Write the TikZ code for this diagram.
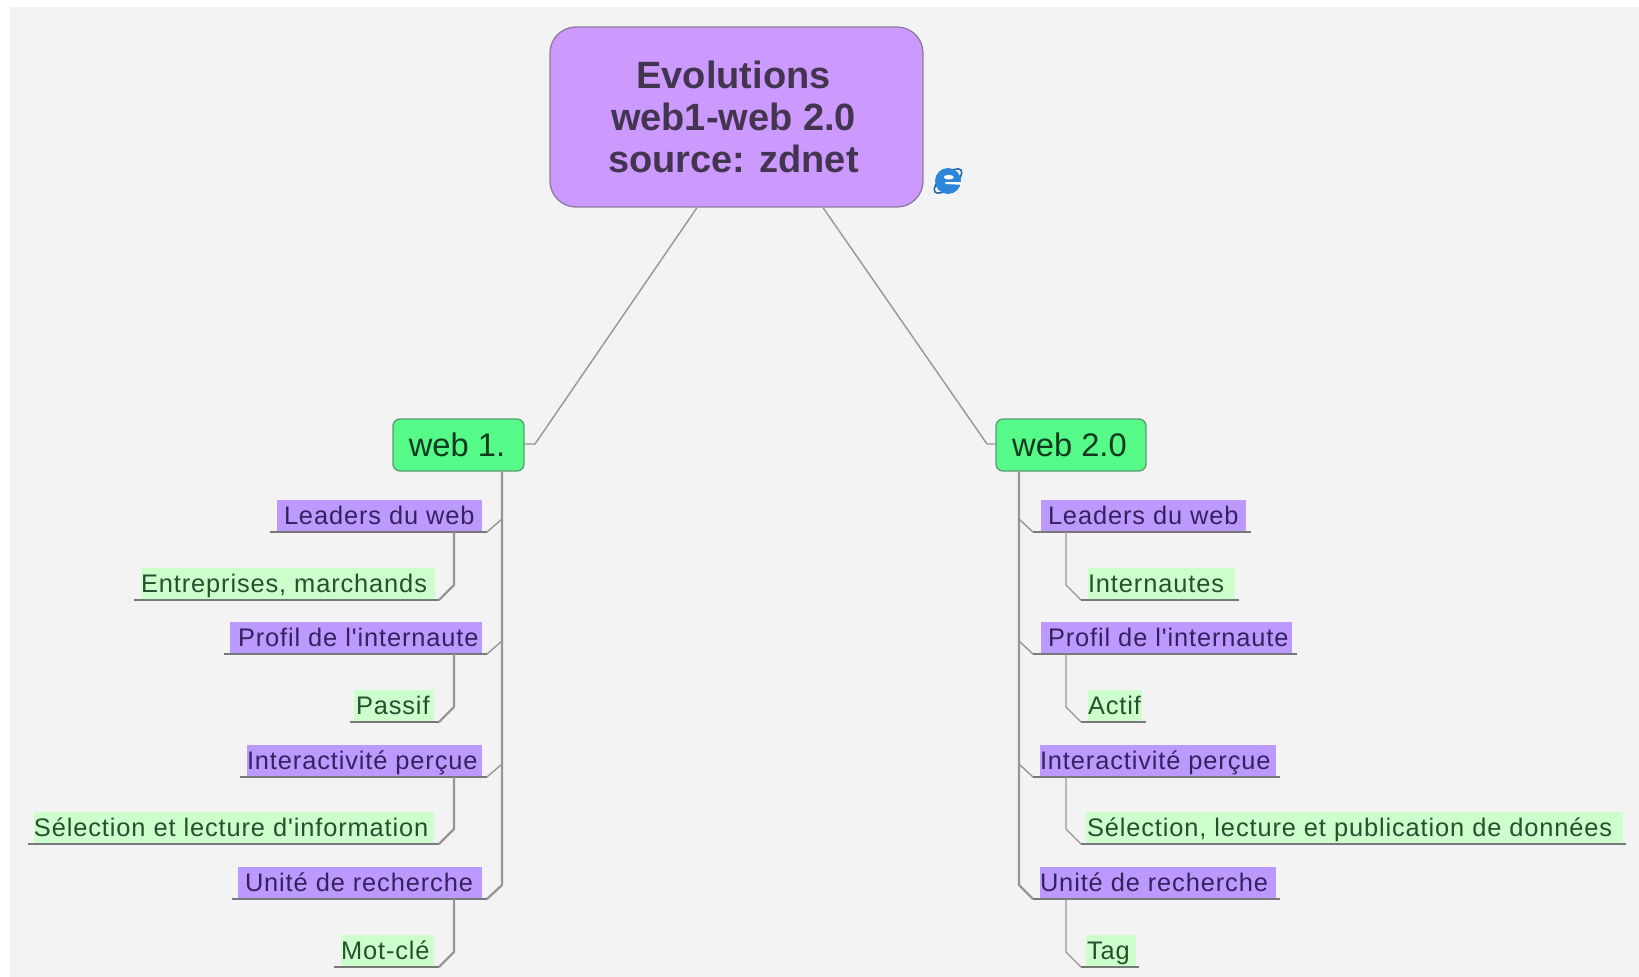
\documentclass[tikz,border=0pt]{standalone}
\usepackage{fontspec}
\setmainfont{Liberation Sans}
\newfontfamily\tracked[LetterSpace=3.5]{Liberation Sans}
\definecolor{panel}{HTML}{F3F3F3}
\definecolor{rootfill}{HTML}{CC99FF}
\definecolor{rootline}{HTML}{8F7A9F}
\definecolor{rootink}{HTML}{43354F}
\definecolor{webfill}{HTML}{55FA88}
\definecolor{webline}{HTML}{5A9A70}
\definecolor{webink}{HTML}{123A1E}
\definecolor{purfill}{HTML}{BB99FF}
\definecolor{purink}{HTML}{36215F}
\definecolor{grnfill}{HTML}{CCFFCC}
\definecolor{grnink}{HTML}{27502F}
\definecolor{linkgray}{HTML}{969696}
\definecolor{ieblue}{HTML}{2E86D8}
\tikzset{
  conn/.style={draw=linkgray,line width=1.4pt,line join=round},
  trunk/.style={draw=linkgray,line width=2.3pt,line join=round},
  rulebar/.style={draw=linkgray!80!black,line width=1.6pt},
  purbar/.style={fill=purfill,text=purink,inner sep=0pt,outer sep=0pt,anchor=south west},
  grnbar/.style={fill=grnfill,text=grnink,inner sep=0pt,outer sep=0pt,anchor=south west},
}
% \lab{name}{style}{fill x1}{fill x2}{y bottom}{text x}{rule x1}{rule x2}{text}
\newcommand{\lab}[9]{%
  \pgfmathsetlengthmacro{\labw}{(#4-#3)*1pt}%
  \pgfmathsetlengthmacro{\labi}{(#6-#3)*1pt}%
  \node[#2] (#1) at (#3,#5) {\makebox[\labw][l]{\rule[-7.5pt]{0pt}{32.5pt}\hspace*{\labi}\fontsize{25.4}{27}\tracked #9}};%
  \coordinate (#1-a) at (#7,#5);%
  \coordinate (#1-b) at (#8,#5);%
  \draw[rulebar] (#1-a) -- (#1-b);%
}
\begin{document}
\begin{tikzpicture}[x=1pt,y=-1pt]
\useasboundingbox (0,0) rectangle (1639,977);
\fill[white] (0,0) rectangle (1639,977);
\fill[panel] (10,7) rectangle (1639,977);

\node[draw=rootline,fill=rootfill,line width=1.3pt,rounded corners=26pt,minimum width=373pt,minimum height=180pt,inner sep=0pt,
  text=rootink,align=center,font=\fontsize{38}{42}\selectfont\bfseries] (root) at (736.5,117) {\hspace*{-6pt}\raisebox{1pt}{Evolutions}\\\hspace*{-6pt}\raisebox{1pt}{web1-web 2.0}\\\hspace*{-6pt}\raisebox{1pt}{source: zdnet}};
\node[draw=webline,fill=webfill,line width=1.3pt,rounded corners=7pt,minimum width=131pt,minimum height=52pt,inner sep=0pt,
  text=webink,font=\fontsize{32.7}{36}\selectfont] (w1) at (458.5,445) {\hspace*{-3pt}\raisebox{1pt}{web 1.}};
\node[draw=webline,fill=webfill,line width=1.3pt,rounded corners=7pt,minimum width=150pt,minimum height=52pt,inner sep=0pt,
  text=webink,font=\fontsize{32.7}{36}\selectfont] (w2) at (1071,445) {\hspace*{-3pt}\raisebox{1pt}{web 2.0}};

% main connectors
\coordinate (rl) at (697,207);
\coordinate (rr) at (823,207);
\coordinate (kl) at (535,444);
\coordinate (kr) at (987,444);
\draw[conn] (root.south -| rl) -- (kl) -- (w1.east |- kl);
\draw[conn] (root.south -| rr) -- (kr) -- (w2.west |- kr);

% left labels
\lab{l1}{purbar}{277}{482}{532}{284}{270}{487}{Leaders du web}
\lab{l1c}{grnbar}{141}{435}{600}{141}{134}{439}{Entreprises, marchands}
\lab{l2}{purbar}{230}{482}{654}{238}{224}{487}{Profil de l'internaute}
\lab{l2c}{grnbar}{354}{434}{722}{356}{350}{439}{Passif}
\lab{l3}{purbar}{247}{482}{777}{247}{240}{487}{Interactivité perçue}
\lab{l3c}{grnbar}{34}{434}{844}{34}{28}{439}{Sélection et lecture d'information}
\lab{l4}{purbar}{238}{482}{899}{245}{232}{487}{Unité de recherche}
\lab{l4c}{grnbar}{341}{434}{967}{341}{334}{439}{Mot-clé}

% right labels
\lab{r1}{purbar}{1041}{1246}{532}{1048}{1033}{1251}{Leaders du web}
\lab{r1c}{grnbar}{1088}{1235}{600}{1088}{1081}{1239}{Internautes}
\lab{r2}{purbar}{1041}{1292}{654}{1048}{1033}{1297}{Profil de l'internaute}
\lab{r2c}{grnbar}{1088}{1142}{722}{1088}{1081}{1146}{Actif}
\lab{r3}{purbar}{1040}{1276}{777}{1040}{1033}{1280}{Interactivité perçue}
\lab{r3c}{grnbar}{1086}{1623}{844}{1087}{1081}{1626}{Sélection, lecture et publication de données}
\lab{r4}{purbar}{1040}{1276}{899}{1040}{1033}{1280}{Unité de recherche}
\lab{r4c}{grnbar}{1086}{1136}{967}{1087}{1081}{1139}{Tag}

% trunks
\coordinate (tl) at (502,471);
\coordinate (tr) at (1019,471);
\draw[trunk] (tl) -- (502,885) -- (l4-b);
\draw[trunk] (tr) -- (1019,885) -- (r4-a);
\foreach \n in {1,2,3}{
  \draw[conn] (l\n-b) -- ++(15,-13);
  \draw[conn] (r\n-a) -- ++(-14,-13);
}
% child connectors
\foreach \n in {1,2,3,4}{
  \path (l\n c-b) ++(15,-15) coordinate (lk\n);
  \draw[trunk] (l\n c-b) -- (lk\n) -- (lk\n |- l\n-a);
  \path (r\n c-a) ++(-15,-15) coordinate (rk\n);
  \draw[conn] (r\n c-a) -- (rk\n) -- (rk\n |- r\n-a);
}

% browser icon
\begin{scope}[shift={(948,181)}]
  \draw[ieblue!75!black,line width=1.5pt,rotate=40] (0,0) ellipse (17 and 7);
  \fill[ieblue] (0,0) circle (13);
  \fill[white] (0.8,-3.8) ellipse (5 and 2.3);
  \fill[white] (-3,1.2) -- (14,1.2) -- (14,3.8) -- (-2,3) -- cycle;
\end{scope}
\end{tikzpicture}
\end{document}
